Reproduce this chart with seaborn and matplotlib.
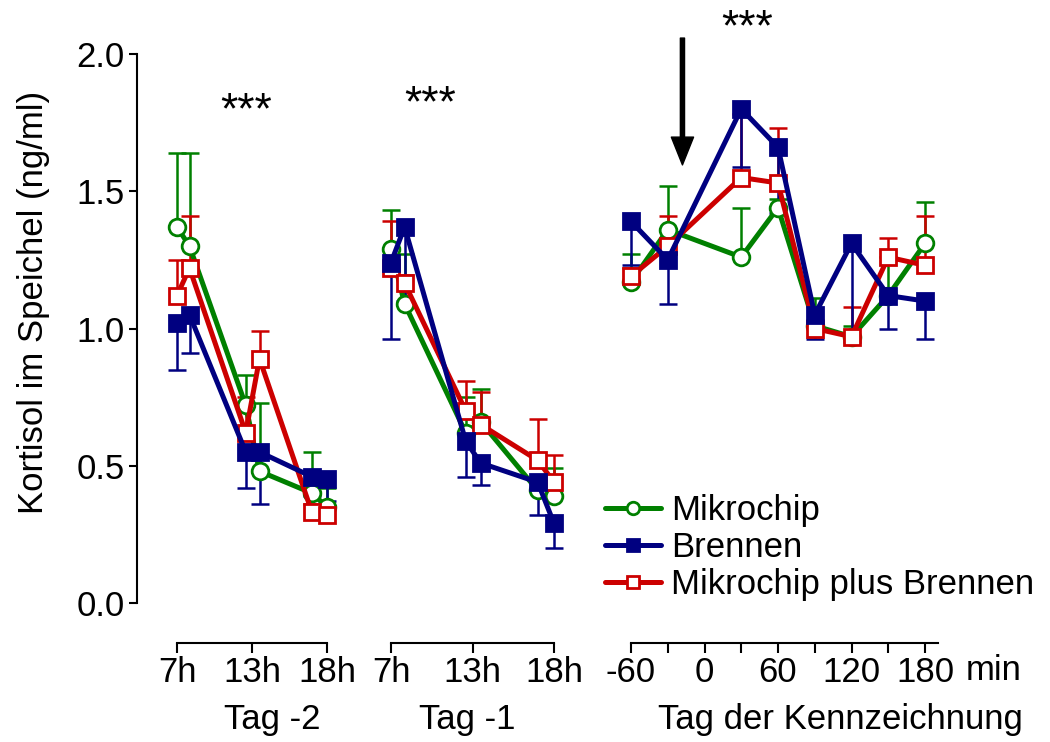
import matplotlib
matplotlib.use("Agg")
import matplotlib.pyplot as plt
from matplotlib.lines import Line2D
import numpy as np
import seaborn as sns

# sample times
hours = [7, 8, 12.5, 13.5, 17, 18]
minutes = [-60, -30, 30, 60, 90, 120, 150, 180]

# Tag -2
mikro_d2 = [1.37, 1.30, 0.72, 0.48, 0.40, 0.35]
mikro_d2_err = [0.27, 0.34, 0.11, 0.25, 0.15, 0.07]
brenn_d2 = [1.02, 1.05, 0.55, 0.55, 0.46, 0.45]
brenn_d2_err = [0.17, 0.14, 0.13, 0.19, 0.07, 0.08]
mpb_d2 = [1.12, 1.22, 0.62, 0.89, 0.33, 0.32]
mpb_d2_err = [0.13, 0.19, 0.13, 0.10, 0.03, 0.03]

# Tag -1
mikro_d1 = [1.29, 1.09, 0.62, 0.66, 0.41, 0.39]
mikro_d1_err = [0.14, 0.18, 0.13, 0.12, 0.03, 0.10]
brenn_d1 = [1.24, 1.37, 0.59, 0.51, 0.44, 0.29]
brenn_d1_err = [0.28, 0.27, 0.13, 0.08, 0.12, 0.09]
mpb_d1 = [1.22, 1.165, 0.70, 0.65, 0.52, 0.44]
mpb_d1_err = [0.17, 0.03, 0.11, 0.12, 0.15, 0.10]

# Tag der Kennzeichnung
mikro_d0 = [1.17, 1.36, 1.26, 1.44, 1.01, 0.97, 1.12, 1.31]
mikro_d0_err = [0.10, 0.16, 0.18, 0.03, 0.10, 0.04, 0.14, 0.15]
brenn_d0 = [1.39, 1.25, 1.80, 1.66, 1.05, 1.31, 1.12, 1.10]
brenn_d0_err = [0.16, 0.16, 0.21, 0.24, 0.09, 0.36, 0.12, 0.14]
mpb_d0 = [1.19, 1.30, 1.55, 1.53, 1.00, 0.97, 1.26, 1.23]
mpb_d0_err = [0.03, 0.11, 0.23, 0.20, 0.03, 0.11, 0.07, 0.18]

labels = ["Mikrochip", "Brennen", "Mikrochip plus Brennen"]
colors = ["#008000", "#000080", "#cc0000"]
markers = ["o", "s", "s"]
faces = ["white", "#000080", "white"]
err_down = [False, True, False]

sns.set_style("ticks")
plt.rcParams["font.family"] = ["Liberation Sans", "DejaVu Sans"]
plt.rcParams["font.size"] = 25
for key in ["text.color", "axes.labelcolor", "xtick.color", "ytick.color", "axes.edgecolor"]:
    plt.rcParams[key] = "black"

W, H = 1050, 742
fig = plt.figure(figsize=(W / 100, H / 100), dpi=100)


def hour_fwd(h):
    h = np.asarray(h, float)
    return np.where(h < 13, (h - 7) / 6, 1 + (h - 13) / 5)


def hour_inv(p):
    p = np.asarray(p, float)
    return np.where(p < 1, 7 + 6 * p, 13 + 5 * (p - 1))


def add_axes(x0, x1):
    ax = fig.add_axes([x0 / W, 1 - 603 / H, (x1 - x0) / W, 549 / H])
    ax.patch.set_visible(False)
    return ax


ax1 = add_axes(137, 340)
ax2 = add_axes(380, 570)
ax3 = add_axes(620, 950)
for ax in (ax1, ax2):
    ax.set_xscale("function", functions=(hour_fwd, hour_inv))
ax1.set_xlim(float(hour_inv(-40 / 75)), float(hour_inv(163 / 75)))
ax2.set_xlim(float(hour_inv(-11 / 81.5)), float(hour_inv(179 / 81.5)))
ax3.set_xlim(-60 - 11 / 1.225, 180 + 25 / 1.225)

series = [
    (ax1, hours, [mikro_d2, brenn_d2, mpb_d2], [mikro_d2_err, brenn_d2_err, mpb_d2_err]),
    (ax2, hours, [mikro_d1, brenn_d1, mpb_d1], [mikro_d1_err, brenn_d1_err, mpb_d1_err]),
    (ax3, minutes, [mikro_d0, brenn_d0, mpb_d0], [mikro_d0_err, brenn_d0_err, mpb_d0_err]),
]

order = [0, 2, 1]
for ax, x, ys, errs in series:
    for i in order:
        y = np.array(ys[i])
        e = np.array(errs[i])
        tip = y - e if err_down[i] else y + e
        ax.vlines(x, y, tip, color=colors[i], lw=1.8, zorder=2)
        ax.plot(x, tip, ls="none", marker="_", ms=13, mew=1.8, color=colors[i], zorder=2)
        sns.lineplot(x=x, y=y, ax=ax, color=colors[i], lw=3.6, marker=markers[i],
                     ms=12, mfc=faces[i], mec=colors[i], mew=2, zorder=3)
    ax.set_ylim(0, 2)
    ax.set_ylabel("")
    sns.despine(ax=ax)
    ax.spines["bottom"].set_position(("outward", 29))
    ax.spines["bottom"].set_linewidth(1.5)
    ax.tick_params(axis="x", length=7, width=1.5, pad=2, labelsize=25)

ax1.set_yticks([0, 0.5, 1.0, 1.5, 2.0], ["0.0", "0.5", "1.0", "1.5", "2.0"])
ax1.tick_params(axis="y", length=6, width=1.5, pad=3, labelsize=25)
ax1.spines["left"].set_linewidth(1.5)
ax1.set_ylabel("Kortisol im Speichel (ng/ml)", fontsize=25)
ax1.yaxis.set_label_coords(-0.43, 0.548)
for ax in (ax2, ax3):
    ax.spines["left"].set_visible(False)
    ax.set_yticks([])

for ax in (ax1, ax2):
    ax.set_xticks([7, 13, 18], ["7h", "13h", "18h"])
    ax.xaxis.set_minor_locator(matplotlib.ticker.NullLocator())
    ax.spines["bottom"].set_bounds(7, 18)
ax3.set_xticks(range(-60, 181, 30), ["-60", "", "0", "", "60", "", "120", "", "180"])
ax3.spines["bottom"].set_bounds(-60, 191)

ax1.set_xlabel("Tag -2", fontsize=25)
ax1.xaxis.set_label_coords((272 - 137) / 203, -0.182)
ax2.set_xlabel("Tag -1", fontsize=25)
ax2.xaxis.set_label_coords((467 - 380) / 190, -0.182)
ax3.set_xlabel("Tag der Kennzeichnung", fontsize=25)
ax3.xaxis.set_label_coords((840 - 620) / 330, -0.182)
fig.text(966 / W, 1 - 671 / H, "min", va="center", ha="left", fontsize=25)

# significance marks and tagging arrow
ax1.text(12.5, 1.79, "***", ha="center", va="center", fontsize=32)
ax2.text(9.9, 1.815, "***", ha="center", va="center", fontsize=32)
ax3.text(35, 2.09, "***", ha="center", va="center", fontsize=32, clip_on=False)
ax3.annotate("", xy=(-18, 1.596), xytext=(-18, 2.058), annotation_clip=False,
             arrowprops=dict(width=3, headwidth=16, headlength=20, color="black", shrink=0))

handles = [Line2D([], [], color=colors[i], lw=3.6, marker=markers[i], ms=12,
                  mfc=faces[i], mec=colors[i], mew=2) for i in range(3)]
fig.legend(handles, labels, loc="upper left", bbox_to_anchor=(605 / W, 1 - 494 / H),
           frameon=False, handlelength=1.6, handletextpad=0.3, labelspacing=0.12,
           borderpad=0, borderaxespad=0, markerscale=0.75, fontsize=25)

fig.savefig("out.png", dpi=100)
